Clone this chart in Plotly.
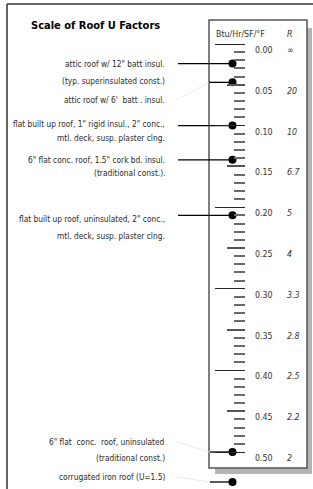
import plotly.graph_objects as go

# ---------------- data ----------------
U_TICK_VALUES = [0.00, 0.05, 0.10, 0.15, 0.20, 0.25, 0.30, 0.35, 0.40, 0.45, 0.50]
U_TICK_LABELS = ["0.00", "0.05", "0.10", "0.15", "0.20", "0.25", "0.30", "0.35", "0.40", "0.45", "0.50"]
R_LABELS = ["∞", "20", "10", "6.7", "5", "4", "3.3", "2.8", "2.5", "2.2", "2"]

ROOF_LABELS = [
    ["attic roof w/ 12\" batt insul.", "(typ. superinsulated const.)"],
    ["attic roof w/ 6'  batt . insul."],
    ["flat built up roof, 1\" rigid insul., 2\" conc.,", "mtl. deck, susp. plaster clng."],
    ["6\" flat conc. roof, 1.5\" cork bd. insul.", "(traditional const.)."],
    ["flat built up roof, uninsulated, 2\" conc.,", "mtl. deck, susp. plaster clng."],
    ["6\" flat  conc.  roof, uninsulated", "(traditional const.)"],
    ["corrugated iron roof (U=1.5)"],
]
ROOF_U = [0.024, 0.047, 0.10, 0.142, 0.21, 0.50, 1.5]

TITLE = "Scale of Roof U Factors"
UNIT_HEADER = "Btu/Hr/SF/°F"
R_HEADER = "R"

# ---------------- layout constants ----------------
W, H = 313, 489
Y_TOP, PX_PER_U = 44, 816.0            # pixel of U=0 and pixels per U unit
Y_RANGE = [(H - Y_TOP) / PX_PER_U, -Y_TOP / PX_PER_U]
SCALE_MAX = 0.50
OFF_SCALE_GAP = 30 / PX_PER_U          # off-scale values drawn just below the scale

AXIS_X = 245
DOT_X = 232.5
TEXT_RIGHT = 167
LINE_START = [178, 209, 178, 178, 178, 210, 210]
TEXT_OFFSET = [0, 17.5, -1.5, 0, 3.5, -10, -5]     # first-line offset (px, down)
LINE_GAP = [17, 0, 13.5, 13, 17, 16, 0]
FAINT_LEADER = [False, True, False, False, False, True, True]

FONT = "DejaVu Sans Condensed, Liberation Sans Narrow, sans-serif"


def py(px):
    """pixel row -> paper y"""
    return 1 - px / H


def disp(u):
    return u if u <= SCALE_MAX else SCALE_MAX + OFF_SCALE_GAP


fig = go.Figure()

# pointer lines and dots
for i, u in enumerate(ROOF_U):
    yv = disp(u)
    fig.add_trace(go.Scatter(x=[LINE_START[i], DOT_X], y=[yv, yv], mode="lines",
                             line=dict(color="black", width=1.3),
                             hoverinfo="skip", showlegend=False))
    if FAINT_LEADER[i]:
        ty = yv + TEXT_OFFSET[i] / PX_PER_U
        fig.add_trace(go.Scatter(x=[TEXT_RIGHT + 10, LINE_START[i]], y=[ty, yv], mode="lines",
                                 line=dict(color="#e6e6e6", width=0.8),
                                 hoverinfo="skip", showlegend=False))

fig.add_trace(go.Scatter(x=[DOT_X] * len(ROOF_U), y=[disp(u) for u in ROOF_U],
                         mode="markers", marker=dict(color="black", size=8),
                         hoverinfo="skip", showlegend=False))

# dummy trace so the second tick axis is rendered
fig.add_trace(go.Scatter(x=[None], y=[None], yaxis="y2", showlegend=False, hoverinfo="skip"))

annotations = []
# roof labels
for i, lines in enumerate(ROOF_LABELS):
    yv = disp(ROOF_U[i])
    for k, txt in enumerate(lines):
        annotations.append(dict(x=TEXT_RIGHT, y=yv, xref="x", yref="y", text=txt,
                                showarrow=False, xanchor="right", yanchor="middle",
                                yshift=-(TEXT_OFFSET[i] + k * LINE_GAP[i]),
                                font=dict(family=FONT, size=8.3, color="#2a2a2a")))
# scale numbers
for v, lab, r in zip(U_TICK_VALUES, U_TICK_LABELS, R_LABELS):
    annotations.append(dict(x=253, y=v, xref="x", yref="y", text=lab, showarrow=False,
                            xanchor="left", yanchor="middle", yshift=-6,
                            font=dict(family=FONT, size=8.8, color="#333")))
    annotations.append(dict(x=285, y=v, xref="x", yref="y", text="<i>" + r + "</i>",
                            showarrow=False, xanchor="left", yanchor="middle", yshift=-6,
                            font=dict(family=FONT, size=8.8, color="#333")))
# headers
annotations.append(dict(x=29, y=py(26), xref="x", yref="paper", text="<b>" + TITLE + "</b>",
                        showarrow=False, xanchor="left", yanchor="middle",
                        font=dict(family=FONT, size=11, color="black")))
annotations.append(dict(x=214, y=py(34), xref="x", yref="paper", text=UNIT_HEADER,
                        showarrow=False, xanchor="left", yanchor="middle",
                        font=dict(family=FONT, size=8.8, color="#333")))
annotations.append(dict(x=285, y=py(34), xref="x", yref="paper", text="<i>" + R_HEADER + "</i>",
                        showarrow=False, xanchor="left", yanchor="middle",
                        font=dict(family=FONT, size=8.8, color="#333")))

shapes = [
    # outer frame
    dict(type="line", xref="x", yref="paper", x0=7, x1=W, y0=py(4), y1=py(4),
         line=dict(color="#333", width=1.5), layer="below"),
    dict(type="line", xref="x", yref="paper", x0=7, x1=7, y0=py(4), y1=0,
         line=dict(color="#333", width=1.5), layer="below"),
    # scale box shadow and box
    dict(type="rect", xref="x", yref="paper", x0=215, x1=312, y0=py(28), y1=py(474),
         fillcolor="#b4b4b4", line=dict(width=0), layer="below"),
    dict(type="rect", xref="x", yref="paper", x0=209, x1=307, y0=py(20), y1=py(468),
         fillcolor="white", line=dict(color="#555", width=1.5), layer="below"),
]

long_ticks = [v for v in U_TICK_VALUES if round(v * 100) % 10 == 0]
mid_ticks = [v for v in U_TICK_VALUES if round(v * 100) % 10 == 5]
minor_ticks = [k / 100 for k in range(1, 50) if k % 5 != 0]

fig.update_layout(
    width=W, height=H, margin=dict(l=0, r=0, t=0, b=0),
    paper_bgcolor="white", plot_bgcolor="rgba(0,0,0,0)",
    xaxis=dict(range=[0, W], visible=False, fixedrange=True),
    yaxis=dict(range=Y_RANGE, anchor="free", position=AXIS_X / W, side="left",
               showgrid=False, zeroline=False, showline=False, showticklabels=False,
               tickmode="array", tickvals=long_ticks, ticks="outside", ticklen=30,
               tickwidth=1.3, tickcolor="#222",
               minor=dict(tickmode="array", tickvals=minor_ticks, ticks="outside",
                          ticklen=11, tickwidth=2, tickcolor="#6a6a6a", showgrid=False)),
    yaxis2=dict(range=Y_RANGE, overlaying="y", anchor="free", position=AXIS_X / W,
                side="left", showgrid=False, zeroline=False, showline=False,
                showticklabels=False, tickmode="array", tickvals=mid_ticks,
                ticks="outside", ticklen=18, tickwidth=1.5, tickcolor="#555"),
    annotations=annotations, shapes=shapes,
)

fig.write_html(
    "out.html",
    config={"displayModeBar": False},
    post_script="document.body.style.margin='0';document.body.style.overflow='hidden';",
)
